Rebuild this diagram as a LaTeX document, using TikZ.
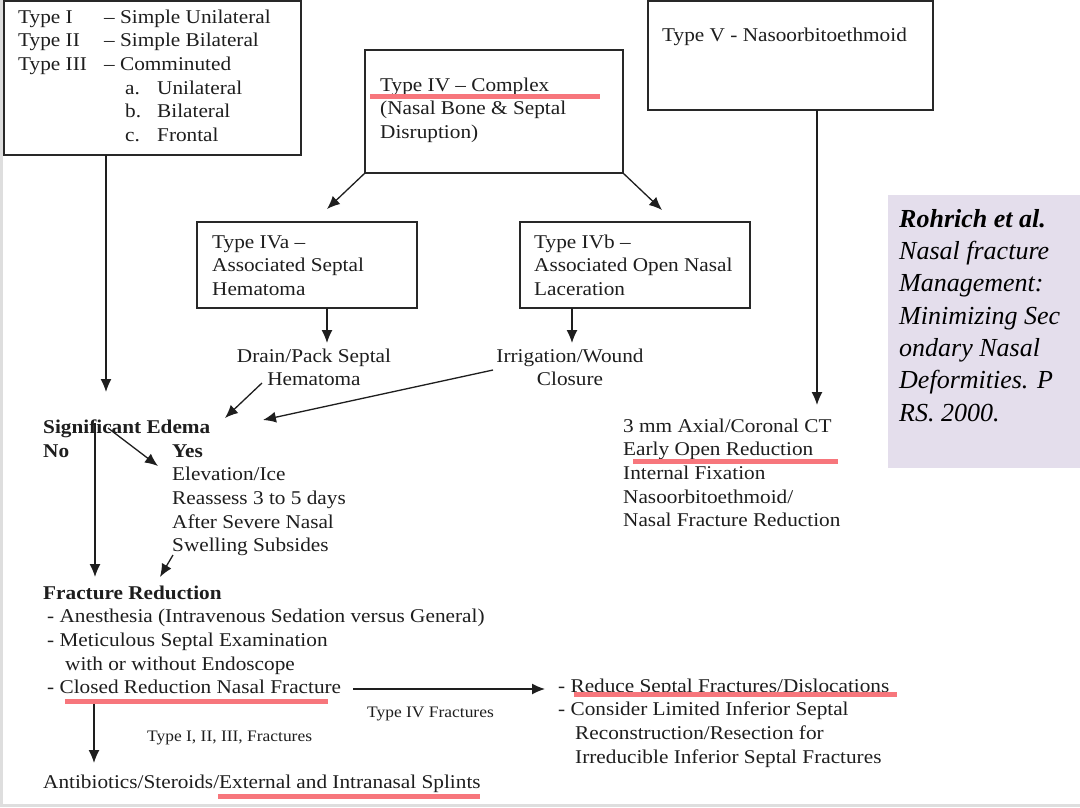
\documentclass[tikz,border=0pt]{standalone}
\usepackage{fontspec}
\setmainfont{Liberation Serif}[FakeStretch=1.09]
\newfontfamily\citefont{Liberation Serif}
\usetikzlibrary{arrows.meta}
\definecolor{ink}{RGB}{30,30,30}
\definecolor{boxline}{RGB}{40,40,40}
\definecolor{hlred}{RGB}{247,118,124}
\definecolor{lav}{RGB}{228,222,236}
\definecolor{edge}{RGB}{222,222,222}
\newcommand\myMain{\fontsize{19.5}{23.7}\selectfont}
\newcommand\mySmall{\fontsize{16}{18}\selectfont}
\newcommand\myCite{\citefont\fontsize{26}{32.3}\selectfont}
\begin{document}
\begin{tikzpicture}[x=1pt,y=-1pt,
  boxn/.style={draw=boxline, line width=1.3pt, anchor=north west, inner sep=0pt, outer sep=0pt},
  txt/.style={anchor=north west, inner sep=0pt, align=left, font=\myMain, text=ink},
  ctxt/.style={anchor=north, inner sep=0pt, align=center, font=\myMain, text=ink},
  small/.style={anchor=base west, inner sep=0pt, font=\mySmall, text=ink},
  arr/.style={draw=ink, line width=1.3pt, -{Latex[length=13pt,width=11pt]}},
  hl/.style={draw=hlred, line width=5pt}]
\useasboundingbox (0,0) rectangle (1080,807);
\fill[white] (0,0) rectangle (1080,807);
\draw[edge, line width=3pt] (1,0) -- (1,805) -- (1080,805);

% boxes
\node[boxn, minimum width=297pt, minimum height=154pt] (tl) at (4,1) {};
\node[boxn, minimum width=258pt, minimum height=123pt] (iv) at (365,50) {};
\node[boxn, minimum width=285pt, minimum height=109pt] (v) at (648,1) {};
\node[boxn, minimum width=220pt, minimum height=86pt] (ivA) at (197,222) {};
\node[boxn, minimum width=230pt, minimum height=86pt] (ivB) at (520,222) {};
\node[anchor=north west, fill=lav, inner sep=0pt, minimum width=192pt, minimum height=273pt] (lav) at (888,195) {};

% texts
\node[txt] (tltx) at (18,6.4) {\strut\makebox[86pt][l]{Type I}– Simple Unilateral\\
\makebox[86pt][l]{Type II}– Simple Bilateral\\
\makebox[86pt][l]{Type III}– Comminuted\\
\hspace*{107pt}\makebox[32pt][l]{a.}Unilateral\\
\hspace*{107pt}\makebox[32pt][l]{b.}Bilateral\\
\hspace*{107pt}\makebox[32pt][l]{c.}Frontal};
\node[txt] (ivtx) at (380,74.4) {\strut Type IV – Complex\\(Nasal Bone \& Septal\\Disruption)};
\node[txt] (vtx) at (662,24.4) {\strut Type V - Nasoorbitoethmoid};
\node[txt] (ivAtx) at (212,231.4) {\strut Type IVa –\\Associated Septal\\Hematoma};
\node[txt] (ivBtx) at (534,231.4) {\strut Type IVb –\\Associated Open Nasal\\Laceration};
\node[ctxt] (drain) at (314,345.4) {\strut Drain/Pack Septal\\Hematoma};
\node[ctxt] (irr) at (570,345.4) {\strut Irrigation/Wound\\Closure};
\node[txt] (sig) at (43,416.4) {\strut\textbf{Significant Edema}};
\node[txt] (no) at (43,440.4) {\strut\textbf{No}};
\node[txt] (yes) at (172,440.4) {\strut\textbf{Yes}\\Elevation/Ice\\Reassess 3 to 5 days\\After Severe Nasal\\Swelling Subsides};
\node[txt] (fr) at (43,582.4) {\strut\textbf{Fracture Reduction}\\
\hspace*{4pt}- Anesthesia (Intravenous Sedation versus General)\\
\hspace*{4pt}- Meticulous Septal Examination\\
\hspace*{22pt}with or without Endoscope};
\node[txt] (closed) at (47,676.4) {\strut - Closed Reduction Nasal Fracture};
\node[txt] (anti) at (43,771.4) {\strut Antibiotics/Steroids/External and Intranasal Splints};
\node[small] (t4f) at (367,717) {Type IV Fractures};
\node[small] (t13f) at (147,741) {Type I, II, III, Fractures};
\node[txt] (red) at (558,675.4) {\strut - Reduce Septal Fractures/Dislocations\\
- Consider Limited Inferior Septal\\
\hspace*{17pt}Reconstruction/Resection for\\
\hspace*{17pt}Irreducible Inferior Septal Fractures};
\node[txt] (ct) at (623,415.4) {\strut 3 mm Axial/Coronal CT\\Early Open Reduction\\Internal Fixation\\Nasoorbitoethmoid/\\Nasal Fracture Reduction};
\node[anchor=north west, inner sep=0pt, align=left, font=\myCite, text=black] (cite) at (899,204.4)
  {\strut\textbf{\textit{Rohrich et al.}}\\\textit{Nasal fracture}\\\textit{Management:}\\\textit{Minimizing Sec}\\\textit{ondary Nasal}\\\textit{Deformities. P}\\\textit{RS. 2000.}};

% connectors
\coordinate (t1) at (106,392);
\draw[arr] (tl.south -| t1) -- (t1);
\coordinate (t2) at (327,209);
\draw[arr] (iv.south west) -- (t2);
\coordinate (t3) at (662,210);
\draw[arr] (iv.south east) -- (t3);
\coordinate (t4) at (327,343);
\draw[arr] (ivA.south -| t4) -- (t4);
\coordinate (t5) at (572,343);
\draw[arr] (ivB.south -| t5) -- (t5);
\coordinate (s6) at (262,383);
\coordinate (t6) at (225,418);
\draw[arr] (s6) -- (t6);
\coordinate (s7) at (493,370);
\coordinate (t7) at (263,420);
\draw[arr] (s7) -- (t7);
\coordinate (s8) at (95,423);
\coordinate (t8) at (95,577);
\draw[arr] (s8) -- (t8);
\coordinate (s9) at (108,428);
\coordinate (t9) at (158,466);
\draw[arr] (s9) -- (t9);
\coordinate (s10) at (173,555);
\coordinate (t10) at (160,577);
\draw[arr] (s10) -- (t10);
\coordinate (s11) at (353,689);
\coordinate (t11) at (545,689);
\draw[arr] (s11) -- (t11);
\coordinate (s12) at (94,703);
\coordinate (t12) at (94,763);
\draw[arr] (s12) -- (t12);
\coordinate (t13) at (817,405);
\draw[arr] (v.south -| t13) -- (t13);

% highlights
\draw[hl] (370,96) -- (600,96);
\draw[hl] (633,461) -- (838,461);
\draw[hl] (65,701) -- (328,701);
\draw[hl] (574,694) -- (897,694);
\draw[hl] (218,796) -- (480,796);
\end{tikzpicture}
\end{document}
